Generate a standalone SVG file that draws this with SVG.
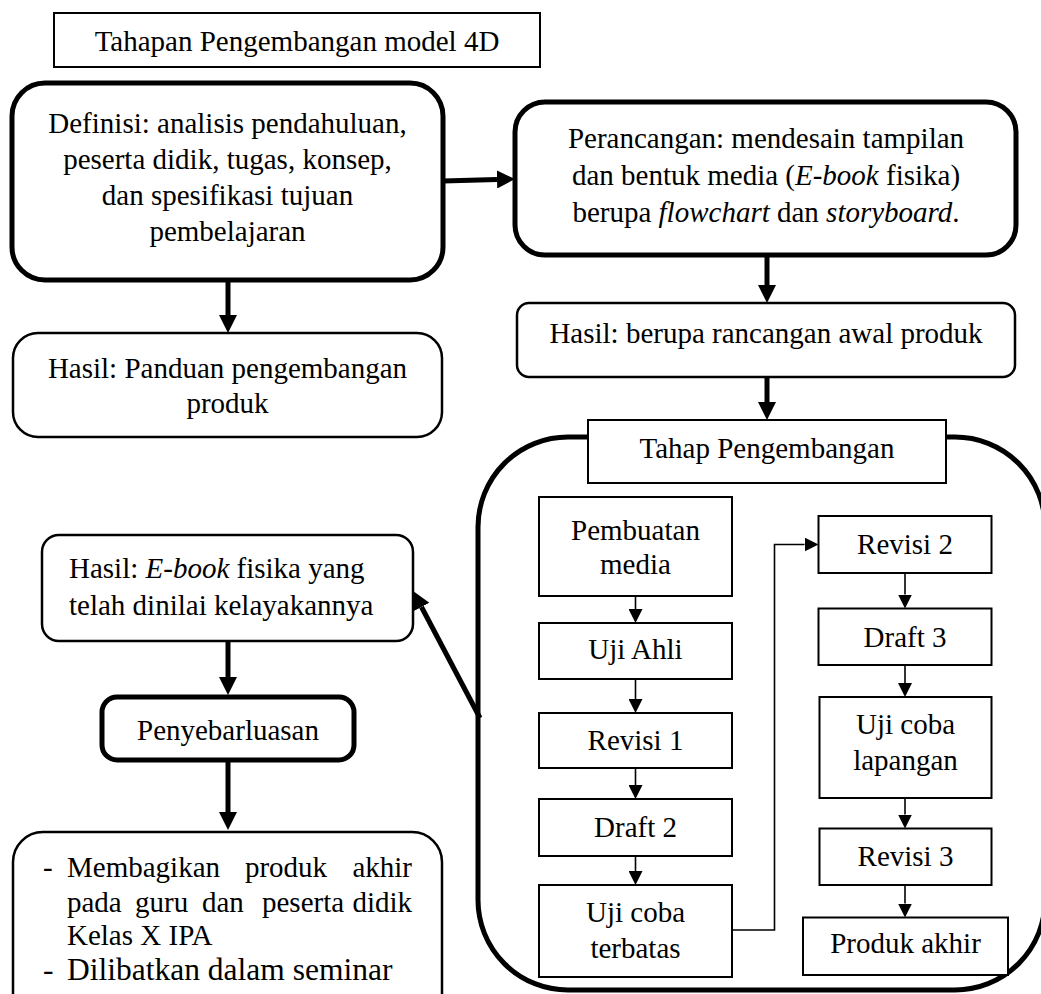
<svg xmlns="http://www.w3.org/2000/svg" width="1041" height="994" viewBox="0 0 1041 994">
<style>
text{font-family:"Liberation Serif","Times New Roman",serif;font-size:29px;fill:#000}
.c{text-anchor:middle}
.thick{fill:#fff;stroke:#000;stroke-width:5}
.thin{fill:#fff;stroke:#000;stroke-width:2}
.mid{fill:#fff;stroke:#000;stroke-width:2.5}
.ca{fill:none;stroke:#000;stroke-width:5}
.cb{fill:none;stroke:#000;stroke-width:1.6}
</style>
<defs>
<marker id="ah" markerUnits="userSpaceOnUse" markerWidth="18" markerHeight="18" refX="0" refY="9" orient="auto" viewBox="0 0 18 18"><path d="M0,0 L18,9 L0,18 z" fill="#000"/></marker>
<marker id="as" markerUnits="userSpaceOnUse" markerWidth="14" markerHeight="14" refX="0" refY="7" orient="auto" viewBox="0 0 14 14"><path d="M0,0 L14,7 L0,14 z" fill="#000"/></marker>
</defs>
<g id="container"><rect x="478" y="437" width="567" height="553" rx="90" class="ca"/></g>
<g id="connectors">
<line x1="443" y1="181" x2="497" y2="179.5" class="ca" marker-end="url(#ah)"/>
<line x1="228" y1="280" x2="228" y2="315" class="ca" marker-end="url(#ah)"/>
<line x1="767" y1="255" x2="767" y2="285" class="ca" marker-end="url(#ah)"/>
<line x1="767" y1="377" x2="767" y2="402" class="ca" marker-end="url(#ah)"/>
<line x1="480" y1="718" x2="421.5" y2="607" class="ca" marker-end="url(#ah)"/>
<line x1="228" y1="641" x2="228" y2="677" class="ca" marker-end="url(#ah)"/>
<line x1="228" y1="760" x2="228" y2="812" class="ca" marker-end="url(#ah)"/>
<line x1="635.5" y1="596" x2="635.5" y2="609" class="cb" marker-end="url(#as)"/>
<line x1="635.5" y1="679" x2="635.5" y2="699" class="cb" marker-end="url(#as)"/>
<line x1="635.5" y1="768" x2="635.5" y2="785" class="cb" marker-end="url(#as)"/>
<line x1="635.5" y1="856" x2="635.5" y2="871" class="cb" marker-end="url(#as)"/>
<path d="M732,930 H774.5 V544.5 H804.5" class="cb" marker-end="url(#as)"/>
<line x1="905" y1="573" x2="905" y2="594.5" class="cb" marker-end="url(#as)"/>
<line x1="905" y1="665" x2="905" y2="683" class="cb" marker-end="url(#as)"/>
<line x1="905" y1="798" x2="905" y2="814.5" class="cb" marker-end="url(#as)"/>
<line x1="905" y1="885" x2="905" y2="903.5" class="cb" marker-end="url(#as)"/>
</g>
<g id="title"><rect x="54" y="13" width="486" height="54" class="thin"/><text x="297" y="51" class="c">Tahapan Pengembangan model 4D</text></g>
<g id="definisi"><rect x="12" y="83" width="431" height="197" rx="33" class="thick"/>
<text class="c"><tspan x="227.5" y="133">Definisi: analisis pendahuluan,</tspan><tspan x="227.5" y="169">peserta didik, tugas, konsep,</tspan><tspan x="227.5" y="205">dan spesifikasi tujuan</tspan><tspan x="227.5" y="241">pembelajaran</tspan></text></g>
<g id="perancangan"><rect x="515" y="102" width="501" height="153" rx="30" class="thick"/>
<text class="c"><tspan x="766" y="148">Perancangan: mendesain tampilan</tspan><tspan x="766" y="185">dan bentuk media (<tspan font-style="italic">E-book</tspan> fisika)</tspan><tspan x="766" y="222">berupa <tspan font-style="italic">flowchart</tspan> dan <tspan font-style="italic">storyboard</tspan>.</tspan></text></g>
<g id="hasil-panduan"><rect x="13" y="333" width="429" height="104" rx="25" class="mid"/>
<text class="c"><tspan x="227.5" y="378">Hasil: Panduan pengembangan</tspan><tspan x="227.5" y="413">produk</tspan></text></g>
<g id="hasil-rancangan"><rect x="517" y="303" width="498" height="74" rx="12" class="mid"/>
<text x="766" y="343" class="c">Hasil: berupa rancangan awal produk</text></g>
<g id="tahap"><rect x="588" y="420" width="358" height="63" class="thin"/><text x="767" y="458" class="c">Tahap Pengembangan</text></g>
<g id="pembuatan"><rect x="539" y="497" width="193" height="99" class="thin"/><text class="c"><tspan x="635.5" y="540">Pembuatan</tspan><tspan x="635.5" y="574">media</tspan></text></g>
<g id="uji-ahli"><rect x="539" y="623" width="193" height="56" class="thin"/><text x="635.5" y="659" class="c">Uji Ahli</text></g>
<g id="revisi1"><rect x="539" y="713" width="193" height="55" class="thin"/><text x="635.5" y="750" class="c">Revisi 1</text></g>
<g id="draft2"><rect x="539" y="799" width="193" height="57" class="thin"/><text x="635.5" y="837" class="c">Draft 2</text></g>
<g id="uji-terbatas"><rect x="539" y="885" width="193" height="92" class="thin"/><text class="c"><tspan x="635.5" y="922">Uji coba</tspan><tspan x="635.5" y="958">terbatas</tspan></text></g>
<g id="revisi2"><rect x="818.5" y="516" width="173" height="57" class="thin"/><text x="905" y="554" class="c">Revisi 2</text></g>
<g id="draft3"><rect x="818.5" y="608.5" width="173" height="56.5" class="thin"/><text x="905" y="647" class="c">Draft 3</text></g>
<g id="uji-lapangan"><rect x="819.5" y="697" width="172" height="101" class="thin"/><text class="c"><tspan x="905.5" y="734">Uji coba</tspan><tspan x="905.5" y="770">lapangan</tspan></text></g>
<g id="revisi3"><rect x="819.5" y="828.5" width="172" height="56.5" class="thin"/><text x="905.5" y="866" class="c">Revisi 3</text></g>
<g id="produk-akhir"><rect x="803" y="917.5" width="205" height="57.5" class="thin"/><text x="905.5" y="953" class="c">Produk akhir</text></g>
<g id="hasil-ebook"><rect x="42" y="535" width="371" height="106" rx="17" class="mid"/>
<text><tspan x="69" y="578">Hasil: <tspan font-style="italic">E-book</tspan> fisika yang</tspan><tspan x="69" y="615">telah dinilai kelayakannya</tspan></text></g>
<g id="penyebarluasan"><rect x="102" y="697" width="252" height="63" rx="15" class="thick"/><text x="228" y="740" class="c">Penyebarluasan</text></g>
<g id="diseminasi"><rect x="13" y="832" width="429" height="200" rx="30" class="mid"/>
<text><tspan x="43" y="877">-</tspan><tspan x="67" y="877">Membagikan</tspan><tspan x="286" y="877" text-anchor="middle">produk</tspan><tspan x="412" y="877" text-anchor="end">akhir</tspan></text>
<text><tspan x="67" y="912">pada</tspan><tspan x="135" y="912">guru</tspan><tspan x="202" y="912">dan</tspan><tspan x="262" y="912">peserta</tspan><tspan x="412" y="912" text-anchor="end">didik</tspan></text>
<text x="67" y="945">Kelas X IPA</text>
<text style="font-size:31.5px"><tspan x="43" y="980">-</tspan><tspan x="67" y="980">Dilibatkan dalam seminar</tspan></text></g>
</svg>
